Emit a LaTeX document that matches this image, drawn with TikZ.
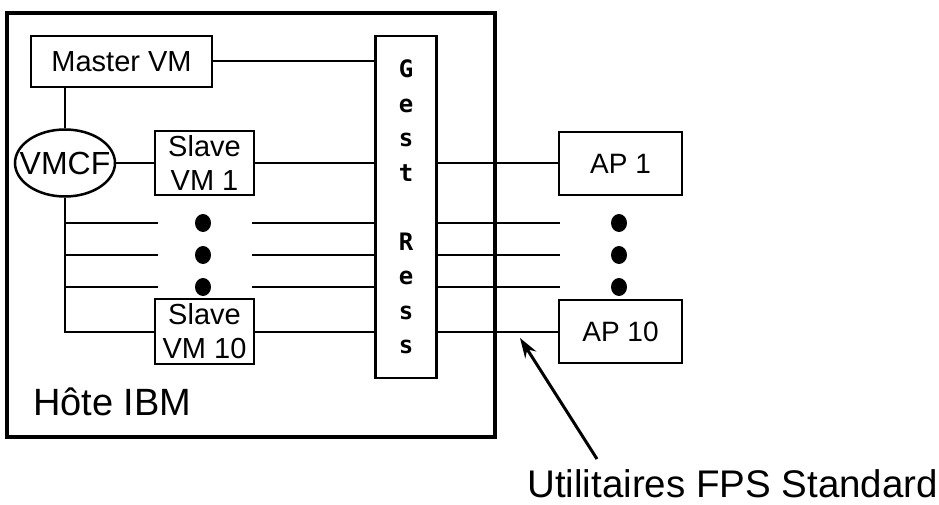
\documentclass[tikz,border=0pt]{standalone}
\usepackage{fontspec}
\setmainfont{Liberation Sans}
\newfontfamily\gestfont{DejaVu Sans Mono}
\usetikzlibrary{shapes.geometric, arrows.meta}
\tikzstyle{hostbox} = [rectangle, draw=black, line width=3.5pt, minimum width=488pt, minimum height=424pt]
\tikzstyle{vmbox} = [rectangle, draw=black, line width=2.5pt, inner sep=0pt, align=center, font=\fontsize{29}{34}\selectfont]
\tikzstyle{apbox} = [rectangle, draw=black, line width=2.5pt, minimum width=123pt, minimum height=63pt, font=\fontsize{28}{34}\selectfont]
\tikzstyle{gestbox} = [rectangle, draw=black, line width=2.5pt, minimum width=61pt, minimum height=342pt, inner sep=0pt, align=center, font=\gestfont\bfseries\fontsize{24}{34.5}\selectfont]
\tikzstyle{comm} = [ellipse, draw=black, line width=2.5pt, minimum width=100pt, minimum height=67pt, inner sep=0pt, font=\fontsize{32}{34}\selectfont]
\tikzstyle{wire} = [line width=2pt]
\tikzstyle{arrow} = [line width=3pt, -{Stealth[length=20pt, width=13pt]}]

\begin{document}
\begin{tikzpicture}[x=1pt, y=-1pt]

\useasboundingbox (0,0) rectangle (939,505);

\node (host) [hostbox] at (251,225) {};
\node (hostlabel) [anchor=base west, inner sep=0pt, font=\fontsize{38}{40}\selectfont] at (33,415) {Hôte IBM};

\node (master) [vmbox, minimum width=181pt, minimum height=51pt] at (121.5,61.5) {Master VM};
\node (gest) [gestbox] at (406,207) {G\\e\\s\\t\\[34.5pt]R\\e\\s\\s};
\node (vmcf) [comm] at (65,163) {\makebox[70pt]{VMCF}};
\node (slave1) [vmbox, minimum width=99pt, minimum height=64pt] at (204.5,163) {Slave\\VM 1};
\node (slave10) [vmbox, minimum width=99pt, minimum height=65pt] at (204.5,331.5) {Slave\\VM 10};

\node (ap1) [apbox] at (620.5,163.5) {AP 1};
\node (ap10) [apbox] at (620.5,331.5) {AP 10};

\node (util) [anchor=base west, inner sep=0pt, font=\fontsize{38.5}{40}\selectfont] at (527,497) {Utilitaires FPS Standard};
\coordinate (tail) at (597,459);
\coordinate (tip) at (520,338);

%% connections
\draw [wire] (master) -- (master -| gest.west);
\draw [wire] (vmcf.north |- master.south) -- (vmcf.north);
\draw [wire] (vmcf) -- (slave1);
\draw [wire] (slave1) -- (slave1 -| gest.west);
\draw [wire] (vmcf.south) |- (slave10);
\draw [wire] (slave10) -- (slave10 -| gest.west);
\draw [wire] (ap1 -| gest.east) -- (ap1);
\draw [wire] (ap10 -| gest.east) -- (ap10);

%% the elided slaves and APs
\foreach \y in {223,255,287} {
  \draw [wire] (vmcf.south |- 0,\y) -- (158,\y);
  \draw [wire] (252,\y) -- (gest.west |- 0,\y);
  \draw [wire] (gest.east |- 0,\y) -- (560,\y);
  \fill (203,\y) ellipse (8 and 9);
  \fill (619,\y) ellipse (8 and 9);
}

\draw [arrow] (tail) -- (tip);

\end{tikzpicture}
\end{document}
